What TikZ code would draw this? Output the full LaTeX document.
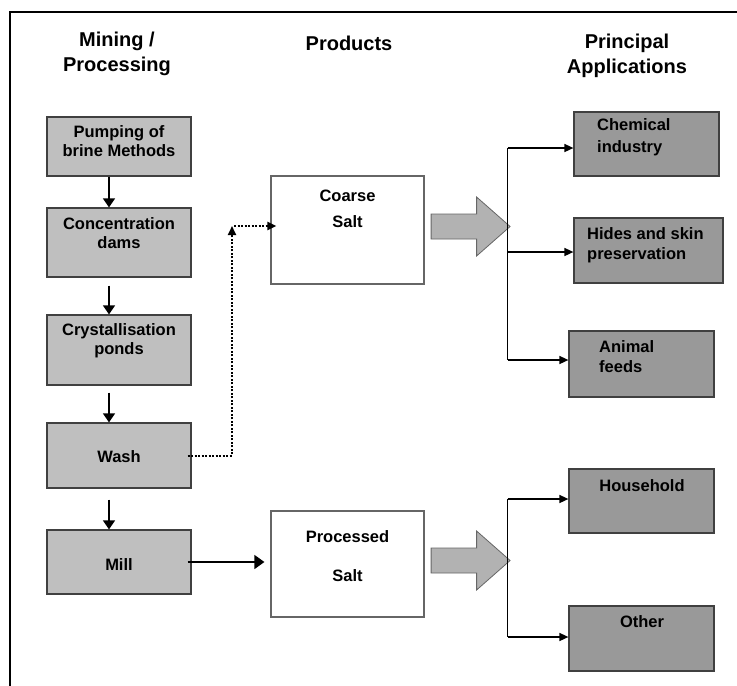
\documentclass[tikz,border=0pt]{standalone}
\usepackage{fontspec}
\setmainfont{Liberation Sans}
\usetikzlibrary{arrows.meta,calc}

\tikzset{
	frame/.style={line width=2pt},
	procbox/.style={draw=black!75,line width=1.2pt,fill=black!25,minimum width=144pt,inner sep=0pt},
	prodbox/.style={draw=black!60,line width=1.2pt,fill=white,minimum width=153pt,inner sep=0pt},
	appbox/.style={draw=black!75,line width=1.2pt,fill=black!40,inner sep=0pt},
	txt/.style={font=\fontsize{16.5}{19}\selectfont\bfseries,align=center,inner sep=0pt},
	head/.style={font=\fontsize{20}{24.5}\selectfont\bfseries,align=center,inner sep=0pt},
	flow/.style={line width=1.3pt,-{Triangle[length=9pt,width=12pt]}},
	branch/.style={line width=1.5pt,-{Triangle[length=9pt,width=8pt]}},
	trunk/.style={line width=1.5pt},
	dots/.style={line width=2pt,dash pattern=on 2pt off 1.5pt,-{Triangle[length=9pt,width=8pt]}},
	blockarrow/.style={draw=black!60,line width=0.8pt,fill=black!30}
}

\begin{document}
\begin{tikzpicture}[x=1pt,y=-1pt]
	\useasboundingbox (0,0) rectangle (737,686);
	\draw[frame] (10,686) -- (10,12) -- (737,12);
	% column heads
	\node[head] (h-mine) at (117,54) {Mining /\\Processing};
	\node[head] (h-prod) at (349,43) {Products};
	\node[head] (h-app) at (627,56) {Principal\\Applications};
	% mining / processing
	\foreach \n/\y/\h/\ty/\lbl in {pump/146.5/59/141/{Pumping of\\brine Methods},conc/242.5/69/233/{Concentration\\dams},cryst/350/70/341/{Crystallisation\\ponds},wash/455.5/65/457/Wash,mill/562/64/565/Mill} {
			\node[procbox,minimum height=\h pt] (\n) at (119,\y) {};
			\node[txt] (\n-t) at (119,\ty) {\lbl};
		}
	\foreach \a/\b/\g in {pump/conc/0,conc/cryst/8,cryst/wash/7,wash/mill/11}
	\draw[flow,shorten <=\g pt] ([xshift=-10pt]\a.south) -- ([xshift=-10pt]\b.north);
	% products
	\node[prodbox,minimum height=108pt] (coarse) at (347.5,230) {};
	\node[txt] (coarse-t) at (347.5,209) {Coarse\\[7pt]Salt};
	\node[prodbox,minimum height=106pt] (proc) at (347.5,564) {};
	\node[txt] (proc-t) at (347.5,556.5) {Processed\\[20pt]Salt};
	\coordinate (turn) at (232,226);
	\draw[dots] ([xshift=-4pt]wash.east) -| (turn);
	\draw[dots] ([xshift=2pt]turn) -- ([xshift=6pt]turn -| coarse.west);
	\draw[line width=1.5pt,-{Triangle[length=10pt,width=14pt]}] ([xshift=-4pt]mill.east) -- ([xshift=-6pt]mill.east -| proc.west);
	\foreach \b/\c in {coarse/tipA,proc/tipB} {
			\draw[blockarrow,shift={(\b.east)}] (6.5,-16) -- (52,-16) -- (52,-33) -- (85.5,-3.5) -- (52,26) -- (52,9) -- (6.5,9) -- cycle;
			\coordinate (\c) at ([shift={(83,-3.5)}]\b.east);
		}
	% applications
	\node[appbox,minimum width=145pt,minimum height=64pt] (chem) at (646.5,144) {};
	\node[appbox,minimum width=149pt,minimum height=65pt] (hides) at (648.5,250.5) {};
	\node[appbox,minimum width=145pt,minimum height=66pt] (animal) at (641.5,364) {};
	\node[appbox,minimum width=145pt,minimum height=64pt] (house) at (641.5,501) {};
	\node[appbox,minimum width=145pt,minimum height=65pt] (other) at (641.5,638.5) {};
	\node[txt,align=left,anchor=west,font=\fontsize{16.5}{22}\selectfont\bfseries] (chem-t) at (597,137) {Chemical\\industry};
	\node[txt,align=left,anchor=west,font=\fontsize{16.5}{20}\selectfont\bfseries] (hides-t) at (587,245) {Hides and skin\\preservation};
	\node[txt,align=left,anchor=west,font=\fontsize{16.5}{20}\selectfont\bfseries] (animal-t) at (599,357) {Animal\\feeds};
	\node[txt] (house-t) at (642,486) {Household};
	\node[txt] (other-t) at (642,622) {Other};
	\draw[trunk] ($(tipA |- chem.west)+(0,4)$) -- ($(tipA |- animal.west)+(0,-4)$);
	\draw[trunk] ($(tipB |- house.west)+(0,-2)$) -- ($(tipB |- other.west)+(0,-1.5)$);
	\foreach \t/\n/\s in {tipA/chem/4,tipA/hides/1.5,tipA/animal/-4,tipB/house/-2,tipB/other/-1.5}
	\draw[branch] ($(\t |- \n.west)+(0,\s)$) -- ($(\n.west)+(0,\s)$);
\end{tikzpicture}
\end{document}
